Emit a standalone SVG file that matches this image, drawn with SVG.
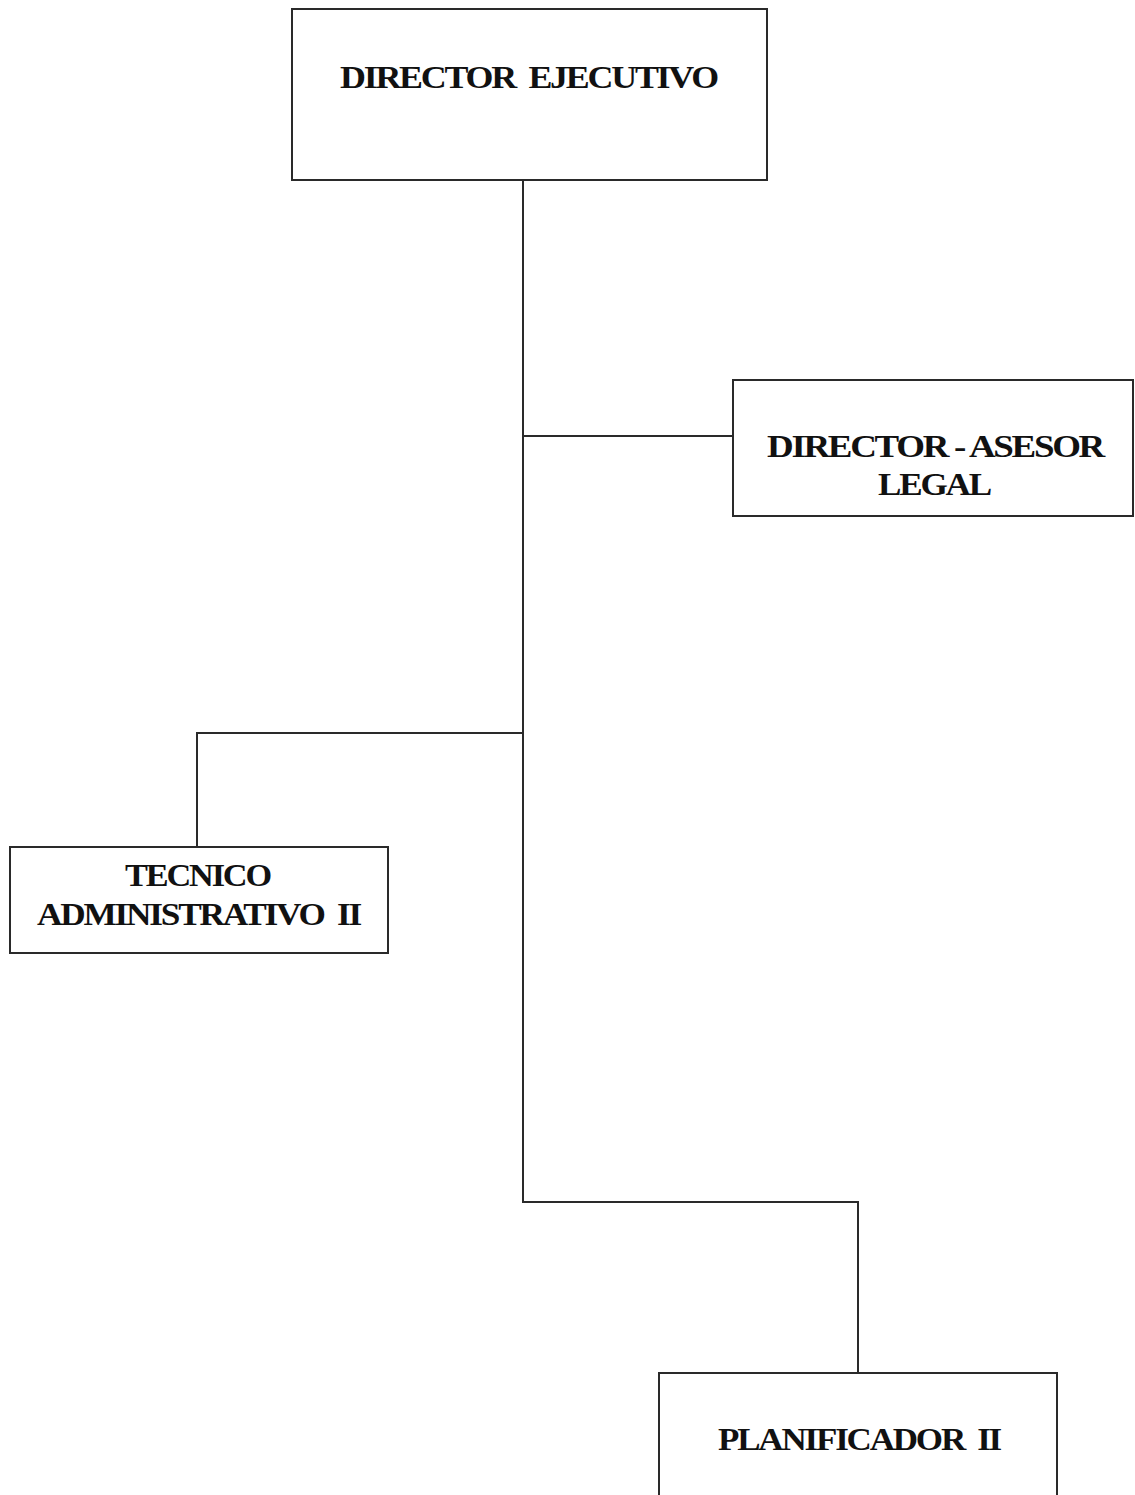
<svg xmlns="http://www.w3.org/2000/svg" width="1135" height="1495" viewBox="0 0 1135 1495">
<style>
.box{fill:#fff;stroke:#2a2a2a;stroke-width:2}
.ln{fill:none;stroke:#2a2a2a;stroke-width:2}
.t{font-family:"Liberation Serif","Times New Roman",serif;font-weight:bold;font-size:32px;fill:#111;letter-spacing:-2px;white-space:pre}
</style>
<rect width="1135" height="1495" fill="#fff"/>
<g id="connectors">
<polyline class="ln" points="523,180 523,1202 858,1202 858,1373"/>
<line class="ln" x1="523" y1="436" x2="733" y2="436"/>
<polyline class="ln" points="523,733 197,733 197,847"/>
</g>
<g id="director-ejecutivo">
<rect class="box" x="292" y="9" width="475" height="171"/>
<text class="t" x="340" y="88" textLength="377" lengthAdjust="spacingAndGlyphs" xml:space="preserve">DIRECTOR  EJECUTIVO</text>
</g>
<g id="director-asesor-legal">
<rect class="box" x="733" y="380" width="400" height="136"/>
<text class="t" x="767" y="457" textLength="336" lengthAdjust="spacingAndGlyphs">DIRECTOR - ASESOR</text>
<text class="t" x="878" y="495" textLength="112" lengthAdjust="spacingAndGlyphs">LEGAL</text>
</g>
<g id="tecnico-administrativo">
<rect class="box" x="10" y="847" width="378" height="106"/>
<text class="t" x="125" y="886" textLength="145" lengthAdjust="spacingAndGlyphs">TECNICO</text>
<text class="t" x="37" y="925" textLength="323" lengthAdjust="spacingAndGlyphs" xml:space="preserve">ADMINISTRATIVO  II</text>
</g>
<g id="planificador">
<rect class="box" x="659" y="1373" width="398" height="140"/>
<text class="t" x="718" y="1450" textLength="282" lengthAdjust="spacingAndGlyphs" xml:space="preserve">PLANIFICADOR  II</text>
</g>
</svg>
